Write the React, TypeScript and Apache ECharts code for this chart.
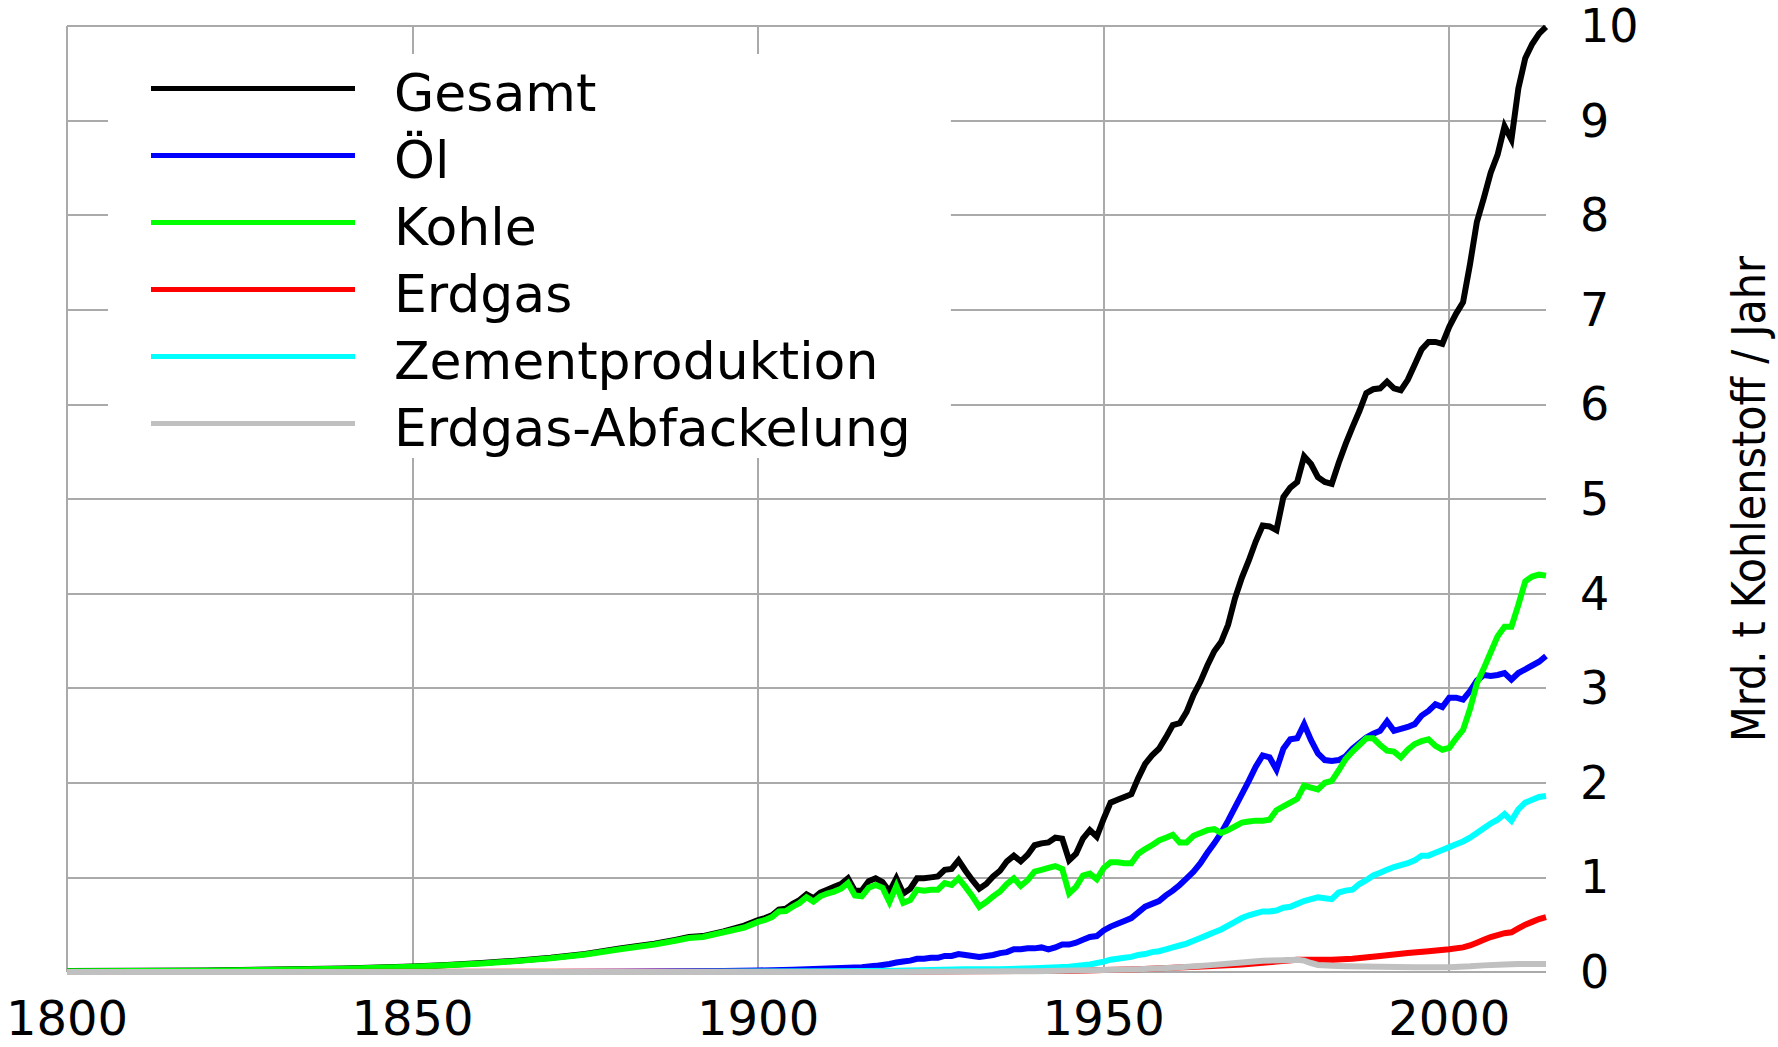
import React, { useEffect, useRef } from "react";
import * as echarts from "echarts";

const seriesNames = ["Gesamt", "Öl", "Kohle", "Erdgas", "Zementproduktion", "Erdgas-Abfackelung"];
const seriesColors = ["#000000", "#0000ff", "#00ff00", "#ff0000", "#00ffff", "#c0c0c0"];

const xTickYears = [1800, 1850, 1900, 1950, 2000];
const yTickValues = [0, 1, 2, 3, 4, 5, 6, 7, 8, 9, 10];
const yAxisTitle = "Mrd. t Kohlenstoff / Jahr";

const gesamt: [number, number][] = [
  [1800, 0.01], [1810, 0.012], [1820, 0.016], [1830, 0.026], [1840, 0.036], [1850, 0.058], [1855, 0.075],
  [1860, 0.095], [1865, 0.12], [1870, 0.15], [1875, 0.19], [1880, 0.25], [1885, 0.3], [1888, 0.34],
  [1890, 0.37], [1892, 0.38], [1895, 0.43], [1898, 0.49], [1900, 0.55], [1901, 0.57], [1902, 0.6],
  [1903, 0.66], [1904, 0.67], [1905, 0.72], [1906, 0.76], [1907, 0.82], [1908, 0.78], [1909, 0.84],
  [1910, 0.87], [1911, 0.9], [1912, 0.93], [1913, 0.99], [1914, 0.86], [1915, 0.86], [1916, 0.96],
  [1917, 0.99], [1918, 0.95], [1919, 0.85], [1920, 0.99], [1921, 0.83], [1922, 0.88], [1923, 0.99],
  [1924, 0.99], [1925, 1.0], [1926, 1.01], [1927, 1.08], [1928, 1.09], [1929, 1.18], [1930, 1.07],
  [1931, 0.97], [1932, 0.88], [1933, 0.93], [1934, 1.01], [1935, 1.07], [1936, 1.17], [1937, 1.23],
  [1938, 1.17], [1939, 1.24], [1940, 1.34], [1941, 1.36], [1942, 1.37], [1943, 1.42], [1944, 1.41],
  [1945, 1.18], [1946, 1.25], [1947, 1.41], [1948, 1.5], [1949, 1.43], [1950, 1.62], [1951, 1.79],
  [1952, 1.82], [1953, 1.85], [1954, 1.88], [1955, 2.05], [1956, 2.2], [1957, 2.29], [1958, 2.36],
  [1959, 2.48], [1960, 2.61], [1961, 2.63], [1962, 2.75], [1963, 2.93], [1964, 3.07], [1965, 3.24],
  [1966, 3.39], [1967, 3.49], [1968, 3.67], [1969, 3.95], [1970, 4.17], [1971, 4.35], [1972, 4.55],
  [1973, 4.72], [1974, 4.71], [1975, 4.67], [1976, 5.02], [1977, 5.12], [1978, 5.18], [1979, 5.45],
  [1980, 5.37], [1981, 5.23], [1982, 5.18], [1983, 5.16], [1984, 5.38], [1985, 5.58], [1986, 5.76],
  [1987, 5.93], [1988, 6.12], [1989, 6.16], [1990, 6.17], [1991, 6.24], [1992, 6.17], [1993, 6.15],
  [1994, 6.26], [1995, 6.42], [1996, 6.58], [1997, 6.66], [1998, 6.66], [1999, 6.64], [2000, 6.82],
  [2001, 6.96], [2002, 7.08], [2003, 7.48], [2004, 7.93], [2005, 8.18], [2006, 8.45], [2007, 8.64],
  [2008, 8.94], [2009, 8.8], [2010, 9.34], [2011, 9.66], [2012, 9.81], [2013, 9.92], [2014, 9.99],
];

const oel: [number, number][] = [
  [1800, 0], [1860, 0], [1870, 0.001], [1880, 0.003], [1890, 0.008], [1895, 0.011], [1900, 0.016],
  [1905, 0.024], [1910, 0.036], [1913, 0.045], [1915, 0.05], [1917, 0.065], [1918, 0.075], [1919, 0.085],
  [1920, 0.1], [1921, 0.11], [1922, 0.12], [1923, 0.14], [1924, 0.14], [1925, 0.15], [1926, 0.15],
  [1927, 0.17], [1928, 0.17], [1929, 0.19], [1930, 0.18], [1931, 0.17], [1932, 0.16], [1933, 0.17],
  [1934, 0.18], [1935, 0.2], [1936, 0.21], [1937, 0.24], [1938, 0.24], [1939, 0.25], [1940, 0.25],
  [1941, 0.26], [1942, 0.24], [1943, 0.26], [1944, 0.29], [1945, 0.29], [1946, 0.31], [1947, 0.34],
  [1948, 0.37], [1949, 0.38], [1950, 0.44], [1951, 0.48], [1952, 0.51], [1953, 0.54], [1954, 0.57],
  [1955, 0.63], [1956, 0.69], [1957, 0.72], [1958, 0.75], [1959, 0.81], [1960, 0.86], [1961, 0.92],
  [1962, 0.99], [1963, 1.06], [1964, 1.15], [1965, 1.26], [1966, 1.36], [1967, 1.47], [1968, 1.6],
  [1969, 1.74], [1970, 1.88], [1971, 2.02], [1972, 2.17], [1973, 2.29], [1974, 2.27], [1975, 2.14],
  [1976, 2.36], [1977, 2.46], [1978, 2.47], [1979, 2.62], [1980, 2.45], [1981, 2.31], [1982, 2.24],
  [1983, 2.23], [1984, 2.24], [1985, 2.28], [1986, 2.36], [1987, 2.42], [1988, 2.48], [1989, 2.52],
  [1990, 2.55], [1991, 2.65], [1992, 2.55], [1993, 2.57], [1994, 2.59], [1995, 2.62], [1996, 2.71],
  [1997, 2.76], [1998, 2.83], [1999, 2.8], [2000, 2.9], [2001, 2.9], [2002, 2.88], [2003, 2.97],
  [2004, 3.08], [2005, 3.14], [2006, 3.13], [2007, 3.14], [2008, 3.16], [2009, 3.09], [2010, 3.16],
  [2011, 3.2], [2012, 3.24], [2013, 3.28], [2014, 3.34],
];

const kohle: [number, number][] = [
  [1800, 0.008], [1810, 0.01], [1820, 0.014], [1830, 0.024], [1840, 0.034], [1850, 0.055], [1855, 0.072],
  [1860, 0.09], [1865, 0.115], [1870, 0.145], [1875, 0.185], [1880, 0.24], [1885, 0.29], [1888, 0.33],
  [1890, 0.36], [1892, 0.37], [1895, 0.42], [1898, 0.47], [1900, 0.53], [1901, 0.55], [1902, 0.58],
  [1903, 0.64], [1904, 0.645], [1905, 0.69], [1906, 0.73], [1907, 0.79], [1908, 0.745], [1909, 0.8],
  [1910, 0.83], [1911, 0.85], [1912, 0.88], [1913, 0.94], [1914, 0.81], [1915, 0.8], [1916, 0.89],
  [1917, 0.92], [1918, 0.89], [1919, 0.74], [1920, 0.91], [1921, 0.73], [1922, 0.76], [1923, 0.87],
  [1924, 0.86], [1925, 0.87], [1926, 0.87], [1927, 0.94], [1928, 0.92], [1929, 0.99], [1930, 0.9],
  [1931, 0.8], [1932, 0.69], [1933, 0.74], [1934, 0.8], [1935, 0.85], [1936, 0.93], [1937, 0.99],
  [1938, 0.91], [1939, 0.97], [1940, 1.06], [1941, 1.08], [1942, 1.1], [1943, 1.12], [1944, 1.09],
  [1945, 0.83], [1946, 0.9], [1947, 1.02], [1948, 1.04], [1949, 0.98], [1950, 1.1], [1951, 1.16],
  [1952, 1.16], [1953, 1.15], [1954, 1.15], [1955, 1.25], [1956, 1.3], [1957, 1.34], [1958, 1.39],
  [1959, 1.42], [1960, 1.45], [1961, 1.37], [1962, 1.37], [1963, 1.44], [1964, 1.47], [1965, 1.5],
  [1966, 1.51], [1967, 1.47], [1968, 1.5], [1969, 1.54], [1970, 1.58], [1971, 1.59], [1972, 1.6],
  [1973, 1.6], [1974, 1.61], [1975, 1.71], [1976, 1.75], [1977, 1.79], [1978, 1.83], [1979, 1.97],
  [1980, 1.95], [1981, 1.93], [1982, 2.0], [1983, 2.02], [1984, 2.13], [1985, 2.25], [1986, 2.33],
  [1987, 2.4], [1988, 2.47], [1989, 2.47], [1990, 2.4], [1991, 2.34], [1992, 2.33], [1993, 2.27],
  [1994, 2.35], [1995, 2.41], [1996, 2.44], [1997, 2.46], [1998, 2.39], [1999, 2.35], [2000, 2.37],
  [2001, 2.47], [2002, 2.56], [2003, 2.78], [2004, 3.05], [2005, 3.21], [2006, 3.38], [2007, 3.55],
  [2008, 3.65], [2009, 3.65], [2010, 3.88], [2011, 4.13], [2012, 4.18], [2013, 4.2], [2014, 4.19],
];

const erdgas: [number, number][] = [
  [1800, 0], [1920, 0.003], [1930, 0.008], [1940, 0.01], [1945, 0.01], [1950, 0.02], [1955, 0.03],
  [1960, 0.045], [1965, 0.06], [1970, 0.08], [1975, 0.11], [1978, 0.13], [1980, 0.13], [1983, 0.13],
  [1986, 0.14], [1990, 0.17], [1994, 0.2], [1997, 0.22], [2000, 0.24], [2002, 0.26], [2003, 0.28],
  [2004, 0.31], [2005, 0.34], [2006, 0.37], [2007, 0.39], [2008, 0.41], [2009, 0.42], [2010, 0.46],
  [2011, 0.5], [2012, 0.53], [2013, 0.56], [2014, 0.58],
];

const zement: [number, number][] = [
  [1800, 0], [1885, 0], [1900, 0.004], [1910, 0.008], [1920, 0.013], [1925, 0.02], [1930, 0.028],
  [1935, 0.03], [1940, 0.04], [1945, 0.055], [1948, 0.08], [1950, 0.11], [1951, 0.13], [1952, 0.14],
  [1953, 0.15], [1954, 0.16], [1955, 0.18], [1956, 0.19], [1957, 0.21], [1958, 0.22], [1959, 0.24],
  [1960, 0.26], [1961, 0.28], [1962, 0.3], [1963, 0.33], [1964, 0.36], [1965, 0.39], [1966, 0.42],
  [1967, 0.45], [1968, 0.49], [1969, 0.53], [1970, 0.57], [1971, 0.6], [1972, 0.62], [1973, 0.64],
  [1974, 0.64], [1975, 0.65], [1976, 0.68], [1977, 0.69], [1978, 0.72], [1979, 0.75], [1980, 0.77],
  [1981, 0.79], [1982, 0.78], [1983, 0.77], [1984, 0.84], [1985, 0.86], [1986, 0.87], [1987, 0.93],
  [1988, 0.97], [1989, 1.02], [1990, 1.05], [1991, 1.08], [1992, 1.11], [1993, 1.13], [1994, 1.15],
  [1995, 1.18], [1996, 1.23], [1997, 1.23], [1998, 1.26], [1999, 1.29], [2000, 1.32], [2001, 1.35],
  [2002, 1.38], [2003, 1.42], [2004, 1.47], [2005, 1.52], [2006, 1.57], [2007, 1.61], [2008, 1.67],
  [2009, 1.6], [2010, 1.72], [2011, 1.79], [2012, 1.82], [2013, 1.85], [2014, 1.86],
];

const abfackelung: [number, number][] = [
  [1800, 0], [1920, 0], [1930, 0.004], [1940, 0.008], [1950, 0.02], [1955, 0.03], [1960, 0.045],
  [1965, 0.07], [1970, 0.1], [1973, 0.12], [1976, 0.125], [1978, 0.13], [1979, 0.12], [1980, 0.095],
  [1981, 0.075], [1983, 0.065], [1985, 0.06], [1990, 0.055], [1995, 0.05], [2000, 0.05], [2003, 0.06],
  [2005, 0.07], [2008, 0.08], [2010, 0.085], [2014, 0.085],
];

const seriesData = [gesamt, oel, kohle, erdgas, zement, abfackelung];

// legend key: a 204x5 bar drawn at the top of a 204x14 icon box (tiny invisible anchor at the bottom)
const legendIcon = "path://M0,0H204V5H0Z M0,13.9H0.1V14H0Z";

export default function App() {
  const ref = useRef<HTMLDivElement>(null);

  useEffect(() => {
    document.body.style.margin = "0";
    const chart = echarts.init(ref.current as HTMLDivElement, null, { renderer: "svg" });
    const gridColor = "#aaaaaa";
    chart.setOption({
      animation: false,
      backgroundColor: "#ffffff",
      grid: { left: 67, right: 232, top: 26, bottom: 75, containLabel: false, outerBoundsMode: "none" },
      legend: {
        orient: "vertical",
        left: 108,
        top: 54,
        padding: [13, 40, 4, 43],
        itemWidth: 204,
        itemHeight: 14,
        itemGap: 15,
        icon: legendIcon,
        backgroundColor: "#ffffff",
        selectedMode: false,
        data: seriesNames,
        textStyle: {
          fontFamily: "DejaVu Sans",
          fontSize: 52,
          color: "#000000",
          padding: [0, 0, 0, 34],
        },
      },
      xAxis: {
        type: "value",
        min: 1800,
        max: 2014,
        interval: 50,
        axisLine: { show: false },
        axisTick: { show: false },
        axisLabel: {
          margin: 22,
          fontFamily: "DejaVu Sans",
          fontSize: 48,
          color: "#000000",
          showMaxLabel: false,
          formatter: (v: number) => (xTickYears.includes(v) ? String(v) : ""),
        },
        splitLine: {
          show: true,
          lineStyle: {
            color: [gridColor, gridColor, gridColor, gridColor, gridColor, "rgba(0,0,0,0)"],
            width: 2,
          },
        },
      },
      yAxis: {
        type: "value",
        position: "right",
        min: 0,
        max: 10,
        interval: 1,
        axisLine: { show: false },
        axisTick: { show: false },
        axisLabel: {
          align: "left",
          margin: 34,
          fontFamily: "DejaVu Sans",
          fontSize: 46,
          color: "#000000",
          formatter: (v: number) => (yTickValues.includes(v) ? String(v) : ""),
        },
        splitLine: { show: true, lineStyle: { color: gridColor, width: 2 } },
        name: yAxisTitle,
        nameLocation: "middle",
        nameRotate: 90,
        nameGap: 180,
        nameTextStyle: {
          fontFamily: "'DejaVu Sans Condensed', 'Liberation Sans', sans-serif",
          fontSize: 46,
          color: "#000000",
        },
      },
      series: seriesNames.map((name, i) => ({
        name,
        type: "line",
        data: seriesData[i],
        symbol: "none",
        showSymbol: false,
        color: seriesColors[i],
        itemStyle: { color: seriesColors[i] },
        lineStyle: { color: seriesColors[i], width: 6, join: "miter" },
        emphasis: { disabled: true },
        z: 2 + i,
      })),
    });
    return () => chart.dispose();
  }, []);

  return <div ref={ref} style={{ width: 1778, height: 1047 }} />;
}
